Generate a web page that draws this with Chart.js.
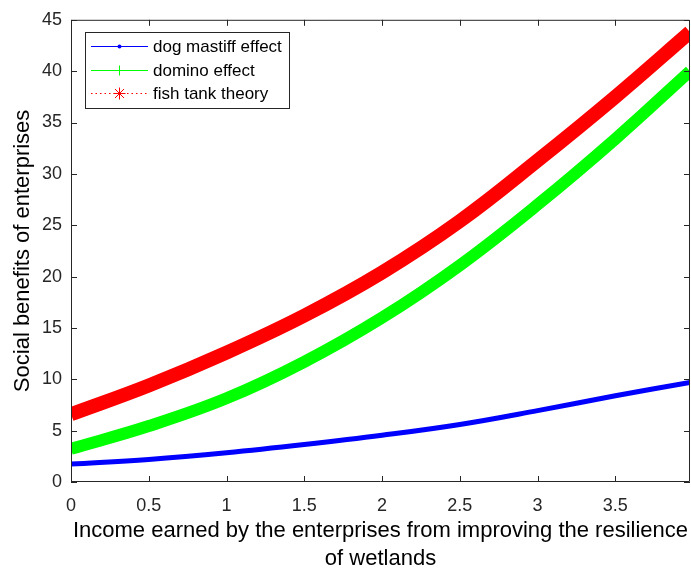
<!DOCTYPE html>
<html>
<head>
<meta charset="utf-8">
<script src="https://cdn.jsdelivr.net/npm/chart.js@4"></script>
<style>
  html, body { margin: 0; padding: 0; background: #fff; }
  #wrap { width: 691px; height: 571px; }
</style>
</head>
<body>
<div id="wrap"><canvas id="benefitsChart" width="691" height="571"></canvas></div>
<script>
// values
const incomeX = [0, 0.5, 1, 1.5, 2, 2.5, 3, 3.5, 3.98];
const dogMastiff = [1.74, 2.2, 2.85, 3.65, 4.55, 5.6, 6.95, 8.4, 9.7];
const domino = [3.23, 5.45, 8.15, 11.7, 16.0, 21.1, 27.0, 33.4, 40.0];
const fishTank = [6.6, 9.4, 12.6, 16.2, 20.4, 25.4, 31.3, 37.5, 43.8];
const xTicks = [0, 0.5, 1, 1.5, 2, 2.5, 3, 3.5];

const axisColor = '#262626';
const fontFamily = '"Liberation Sans", Arial, sans-serif';

function toPoints(ys) {
  return ys.map((y, i) => ({ x: incomeX[i], y: y }));
}

// box + inward ticks like matlab
const boxPlugin = {
  id: 'box',
  afterDatasetsDraw(chart) {
    const ctx = chart.ctx;
    const a = chart.chartArea;
    const xs = chart.scales.x, ys = chart.scales.y;
    const len = 6;
    ctx.save();
    ctx.strokeStyle = axisColor;
    ctx.lineWidth = 1;
    ctx.beginPath();
    ctx.rect(a.left + 0.5, a.top + 0.5, a.right - a.left - 1, a.bottom - a.top - 1);
    xs.ticks.forEach(t => {
      const px = Math.round(xs.getPixelForValue(t.value)) + 0.5;
      ctx.moveTo(px, a.bottom); ctx.lineTo(px, a.bottom - len);
      ctx.moveTo(px, a.top); ctx.lineTo(px, a.top + len);
    });
    ys.ticks.forEach(t => {
      const py = Math.round(ys.getPixelForValue(t.value)) + 0.5;
      ctx.moveTo(a.left, py); ctx.lineTo(a.left + len, py);
      ctx.moveTo(a.right, py); ctx.lineTo(a.right - len, py);
    });
    ctx.stroke();
    ctx.restore();
  }
};

// legend drawn in the matlab way: line sample with marker
const legendPlugin = {
  id: 'matlabLegend',
  afterDraw(chart) {
    const ctx = chart.ctx;
    const bx = 85, by = 32, bw = 204, bh = 76;
    ctx.save();
    ctx.fillStyle = '#fff';
    ctx.fillRect(bx, by, bw, bh);
    ctx.strokeStyle = axisColor;
    ctx.lineWidth = 1;
    ctx.strokeRect(bx + 0.5, by + 0.5, bw, bh);
    const rows = [46, 70, 93];
    chart.data.datasets.forEach((ds, i) => {
      const y = rows[i] + 0.5;
      const col = ds.borderColor;
      ctx.strokeStyle = col;
      ctx.fillStyle = col;
      ctx.lineWidth = 1;
      ctx.setLineDash(ds.legendDash || []);
      ctx.beginPath();
      ctx.moveTo(91, y); ctx.lineTo(148, y);
      ctx.stroke();
      ctx.setLineDash([]);
      const mx = 119.5;
      ctx.beginPath();
      if (ds.marker === 'dot') {
        ctx.arc(mx, y, 2, 0, Math.PI * 2);
        ctx.fill();
      } else if (ds.marker === 'plus') {
        ctx.moveTo(mx - 5, y); ctx.lineTo(mx + 5, y);
        ctx.moveTo(mx, y - 5); ctx.lineTo(mx, y + 5);
        ctx.stroke();
      } else {
        ctx.moveTo(mx - 6, y); ctx.lineTo(mx + 6, y);
        ctx.moveTo(mx, y - 6); ctx.lineTo(mx, y + 6);
        ctx.moveTo(mx - 4.5, y - 4.5); ctx.lineTo(mx + 4.5, y + 4.5);
        ctx.moveTo(mx - 4.5, y + 4.5); ctx.lineTo(mx + 4.5, y - 4.5);
        ctx.stroke();
      }
      ctx.fillStyle = '#000';
      ctx.font = '17px ' + fontFamily;
      ctx.textBaseline = 'middle';
      ctx.textAlign = 'left';
      ctx.fillText(ds.label, 153, rows[i] + 1);
    });
    ctx.restore();
  }
};

new Chart(document.getElementById('benefitsChart'), {
  type: 'line',
  data: {
    datasets: [
      {
        label: 'dog mastiff effect',
        data: toPoints(dogMastiff),
        borderColor: '#0000ff',
        borderWidth: 5,
        pointRadius: 0,
        marker: 'dot'
      },
      {
        label: 'domino effect',
        data: toPoints(domino),
        borderColor: '#00ff00',
        borderWidth: 12,
        pointRadius: 0,
        marker: 'plus'
      },
      {
        label: 'fish tank theory',
        data: toPoints(fishTank),
        borderColor: '#ff0000',
        borderWidth: 14,
        pointRadius: 0,
        marker: 'star',
        legendDash: [1.5, 3]
      }
    ]
  },
  options: {
    responsive: false,
    animation: false,
    tension: 0.4,
    layout: { padding: { top: 16, right: 1, left: 0, bottom: 0 } },
    plugins: {
      legend: { display: false },
      tooltip: { enabled: false }
    },
    scales: {
      x: {
        type: 'linear',
        min: 0,
        max: 3.98,
        afterBuildTicks: scale => {
          scale.ticks = xTicks.map(v => ({ value: v }));
        },
        afterFit: scale => { scale.height = 89; },
        grid: { display: false, drawTicks: false },
        border: { display: false },
        ticks: {
          padding: 13,
          maxRotation: 0,
          color: axisColor,
          font: { family: fontFamily, size: 18 },
          callback: v => String(v)
        },
        title: {
          display: true,
          text: ['Income earned by the enterprises from improving the resilience', 'of wetlands'],
          color: '#000',
          font: { family: fontFamily, size: 22, lineHeight: 1.27 },
          padding: { top: 0, bottom: -2 }
        }
      },
      y: {
        min: 0,
        max: 45,
        afterFit: scale => { scale.width = 71; },
        grid: { display: false, drawTicks: false },
        border: { display: false },
        ticks: {
          stepSize: 5,
          padding: 9,
          color: axisColor,
          font: { family: fontFamily, size: 18 }
        },
        title: {
          display: true,
          text: 'Social benefits of enterprises',
          color: '#000',
          font: { family: fontFamily, size: 22, lineHeight: 1.2 },
          padding: { top: 10, bottom: 0 }
        }
      }
    }
  },
  plugins: [boxPlugin, legendPlugin]
});
</script>
</body>
</html>
